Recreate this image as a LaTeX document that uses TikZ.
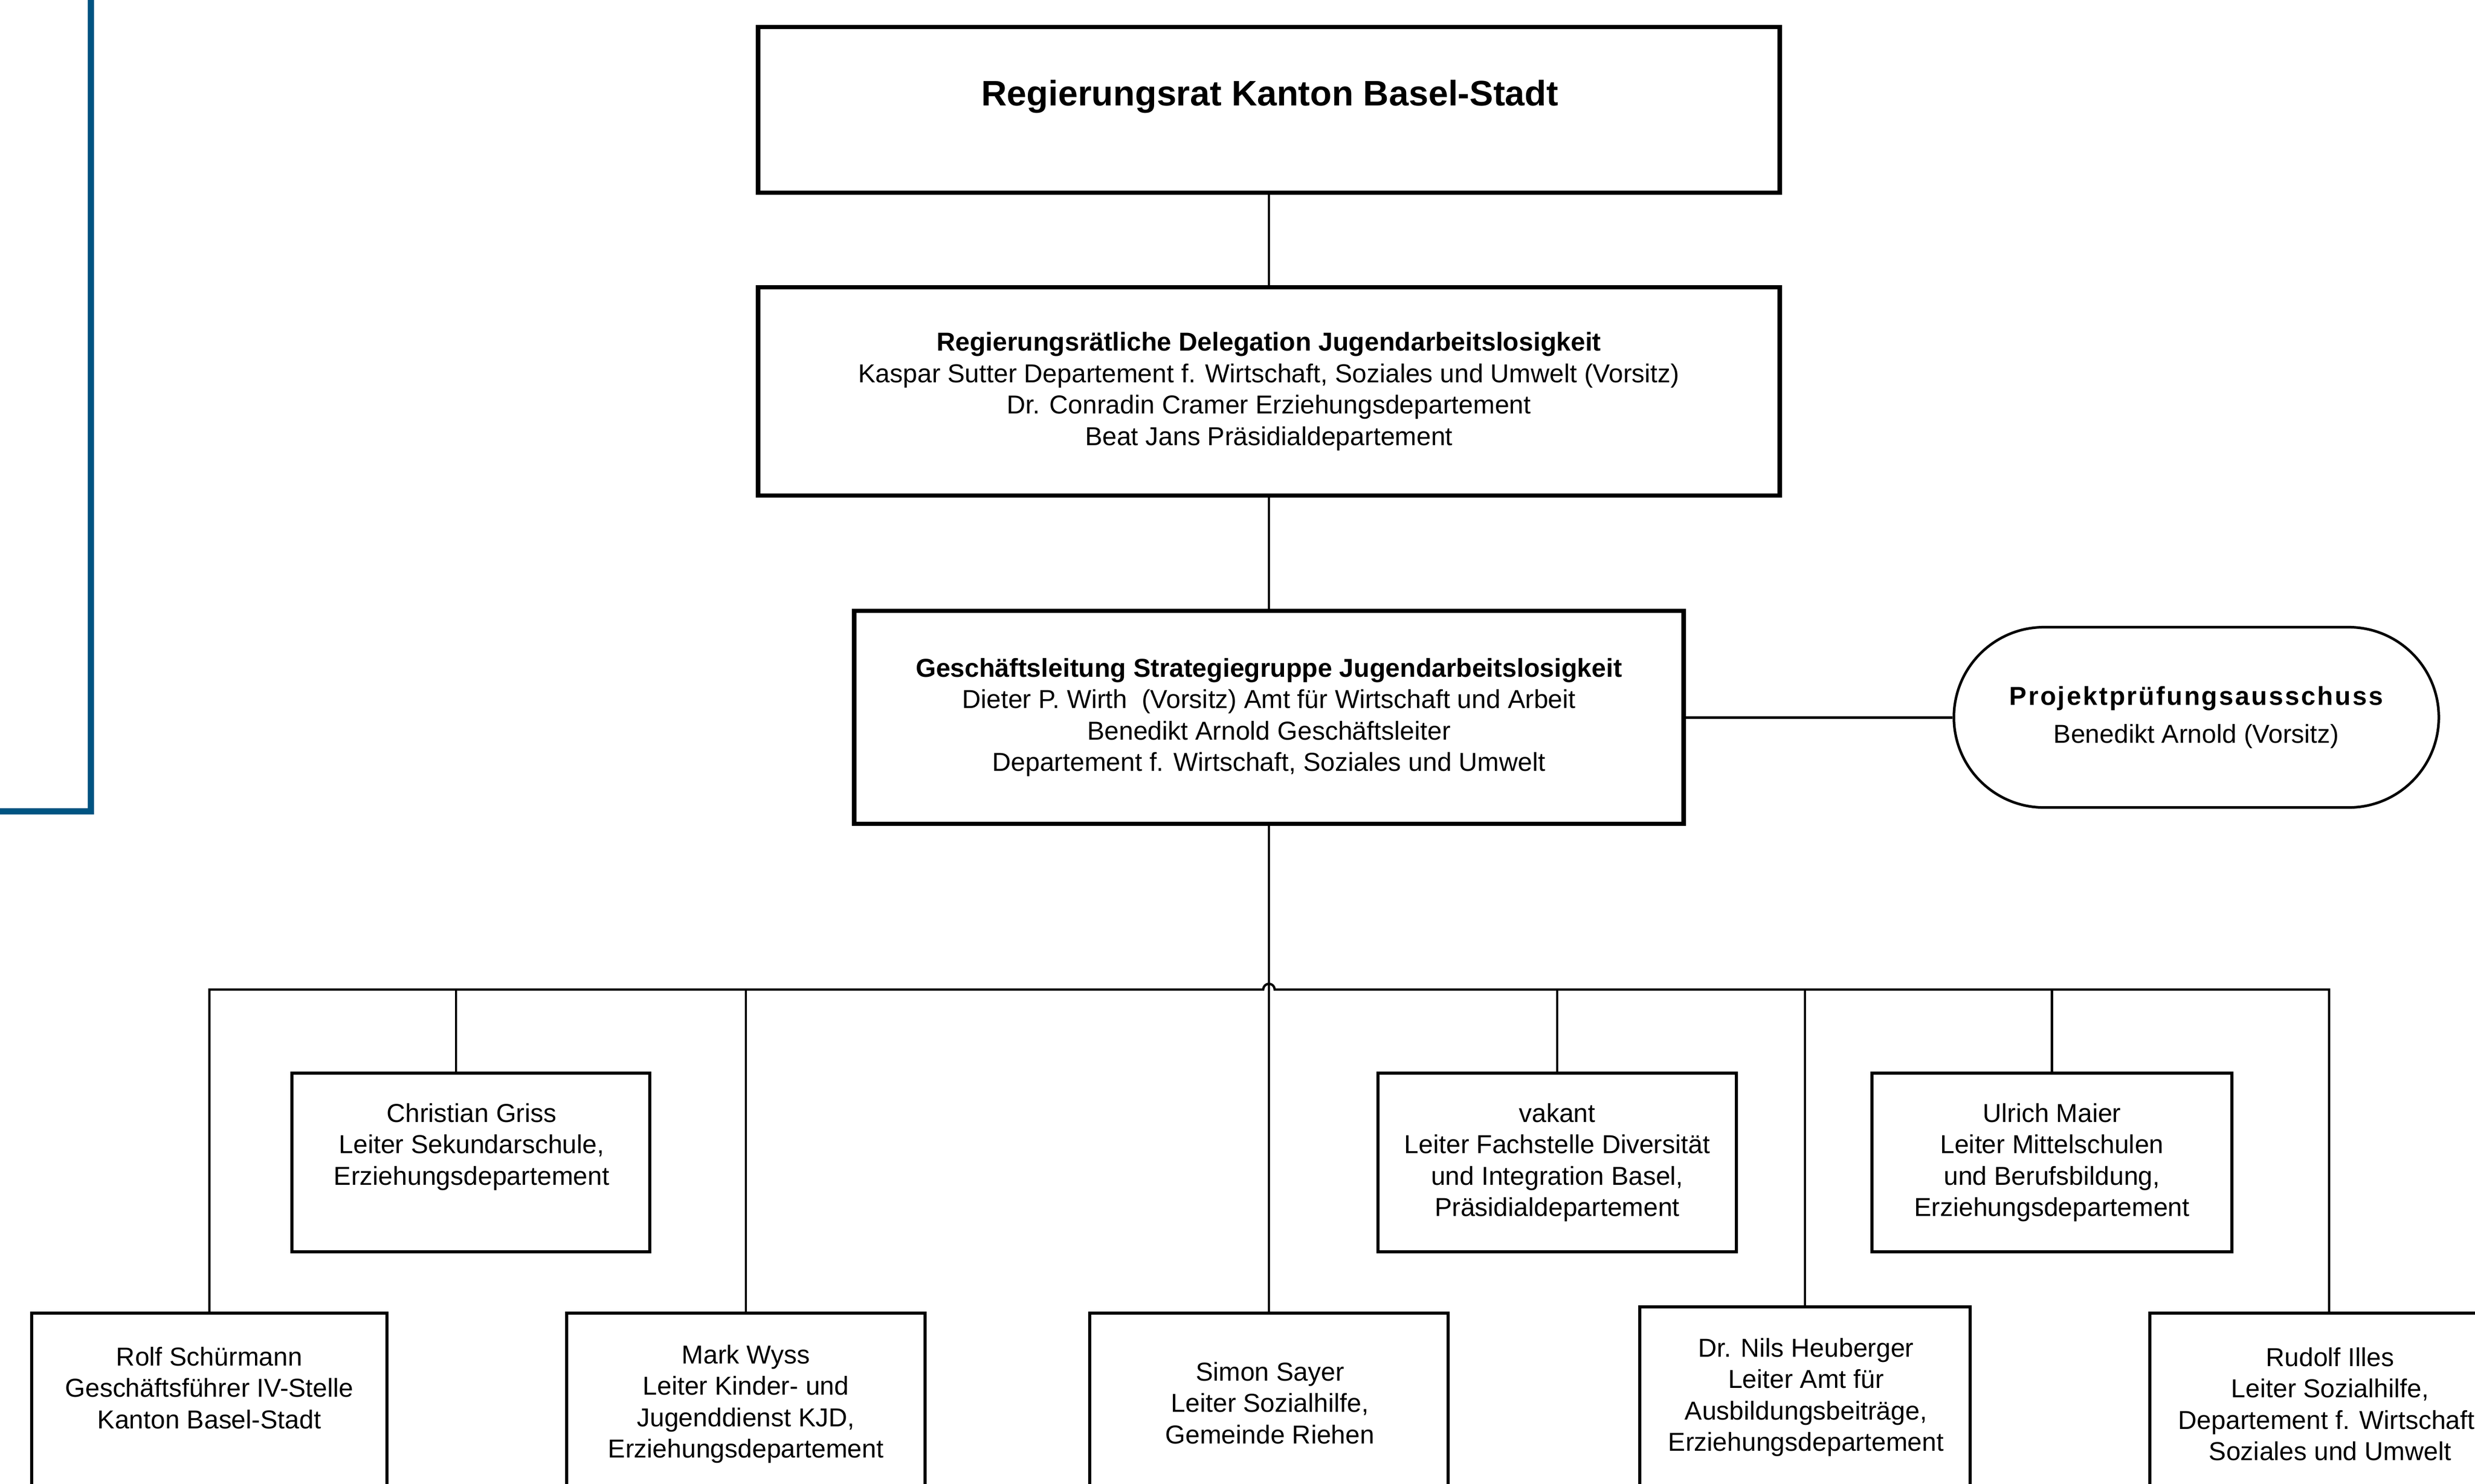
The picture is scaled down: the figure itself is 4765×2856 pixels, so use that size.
\documentclass[tikz,border=0pt]{standalone}
\usepackage{fontspec}
\setmainfont{Liberation Sans}
\usetikzlibrary{shapes.misc}
\definecolor{frameblue}{RGB}{0,84,130}
\begin{document}
\begin{tikzpicture}[x=0.01cm,y=-0.01cm,
  txt/.style={align=center, inner sep=0pt, font=\fontsize{14.2pt}{17.2pt}\selectfont},
  bigbox/.style={draw=black, line width=0.085cm, fill=white, inner sep=0pt, align=center, font=\fontsize{14.2pt}{17.2pt}\selectfont},
  smallbox/.style={draw=black, line width=0.06cm, fill=white, inner sep=0pt, align=center, font=\fontsize{14.2pt}{17.2pt}\selectfont},
  roundbox/.style={rounded rectangle, draw=black, line width=0.05cm, fill=white, inner sep=0pt, align=center, font=\fontsize{14.2pt}{17.2pt}\selectfont},
  conn/.style={draw=black, line width=0.035cm},
  busline/.style={draw=black, line width=0.045cm},
]
\useasboundingbox (0,0) rectangle (4765,2856);
\clip (0,0) rectangle (4765,2856);

% blue frame on the left
\draw[frameblue, line width=0.12cm] (175,-30) -- (175,1562) -- (-30,1562);

% coordinates on the bus
\coordinate (hub) at (2443,1905);
\coordinate (cgdrop) at (878,1905);

% top boxes
\node[bigbox, minimum width=19.66cm, minimum height=3.19cm] (rr) at (2443,211.5) {};
\node[txt, font=\bfseries\fontsize{19.4pt}{23pt}\selectfont] (rrtext) at (2445,186) {Regierungsrat Kanton Basel-Stadt};

\node[bigbox, minimum width=19.66cm, minimum height=4.01cm] (del) at (2443,753.5)
 {\textbf{Regierungsrätliche Delegation Jugendarbeitslosigkeit}\\
  Kaspar Sutter Departement f. Wirtschaft, Soziales und Umwelt (Vorsitz)\\
  Dr. Conradin Cramer Erziehungsdepartement\\
  Beat Jans Präsidialdepartement};

\node[bigbox, minimum width=15.96cm, minimum height=4.10cm] (gl) at (2443,1381)
 {\textbf{Geschäftsleitung Strategiegruppe Jugendarbeitslosigkeit}\\
  Dieter P. Wirth\ \ (Vorsitz) Amt für Wirtschaft und Arbeit\\
  Benedikt Arnold Geschäftsleiter\\
  Departement f. Wirtschaft, Soziales und Umwelt};

\node[roundbox, minimum width=9.33cm, minimum height=3.47cm] (pa) at (4228.5,1381)
 {{\bfseries\addfontfeature{LetterSpace=6.6}Projektprüfungsausschuss}\\[3.5pt]
  Benedikt Arnold (Vorsitz)};

% upper row
\node[smallbox, minimum width=6.89cm, minimum height=3.44cm] (cg) at (906.5,2238) {};
\node[txt] (cgtext) at (908,2208) {Christian Griss\\Leiter Sekundarschule,\\Erziehungsdepartement};

\node[smallbox, minimum width=6.90cm, minimum height=3.44cm] (vak) at (2998,2238)
 {vakant\\Leiter Fachstelle Diversität\\und Integration Basel,\\Präsidialdepartement};

\node[smallbox, minimum width=6.93cm, minimum height=3.44cm] (um) at (3950.5,2238)
 {Ulrich Maier\\Leiter Mittelschulen\\und Berufsbildung,\\Erziehungsdepartement};

% lower row (cut by the lower edge)
\node[smallbox, minimum width=6.84cm, minimum height=4.72cm] (rs) at (403,2764) {};
\node[txt] (rstext) at (403,2672) {Rolf Schürmann\\Geschäftsführer IV-Stelle\\Kanton Basel-Stadt};

\node[smallbox, minimum width=6.90cm, minimum height=4.72cm] (mw) at (1436,2764) {};
\node[txt] (mwtext) at (1436,2703) {Mark Wyss\\Leiter Kinder- und\\Jugenddienst KJD,\\Erziehungsdepartement};

\node[smallbox, minimum width=6.90cm, minimum height=4.72cm] (ss) at (2443,2764) {};
\node[txt] (sstext) at (2445,2701) {Simon Sayer\\Leiter Sozialhilfe,\\Gemeinde Riehen};

\node[smallbox, minimum width=6.36cm, minimum height=4.84cm] (nh) at (3475,2758) {};
\node[txt] (nhtext) at (3477,2690) {Dr. Nils Heuberger\\Leiter Amt für\\Ausbildungsbeiträge,\\Erziehungsdepartement};

\node[smallbox, minimum width=6.90cm, minimum height=4.72cm] (ri) at (4484,2764) {};
\node[txt] (ritext) at (4486,2703) {Rudolf Illes\\Leiter Sozialhilfe,\\Departement f. Wirtschaft,\\Soziales und Umwelt};

% connectors
\draw[conn] (rr.south) -- (del.north);
\draw[conn] (del.south) -- (gl.north);
\draw[conn, line width=0.05cm] (gl.east) -- (pa.west);
\draw[conn] (gl.south) -- (ss.north);
\draw[busline] (rs.north) -- (rs.north |- hub) -- ([xshift=-0.11cm]hub)
  arc[start angle=180, end angle=0, radius=0.11cm] -- (ri.north |- hub) -- (ri.north);
\draw[busline] (cgdrop) -- (cgdrop |- cg.north);
\draw[conn] (mw.north |- hub) -- (mw.north);
\draw[busline] (vak.north |- hub) -- (vak.north);
\draw[busline] (nh.north |- hub) -- (nh.north);
\draw[busline] (um.north |- hub) -- (um.north);
\end{tikzpicture}
\end{document}
